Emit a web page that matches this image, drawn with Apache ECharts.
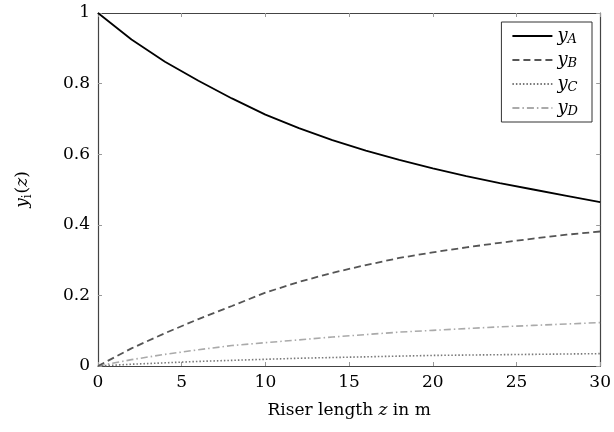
<!DOCTYPE html>
<html>
<head>
<meta charset="utf-8">
<script src="https://cdn.jsdelivr.net/npm/echarts@6/dist/echarts.min.js"></script>
<style>html,body{margin:0;padding:0;background:#fff}#c{width:614px;height:432px}</style>
</head>
<body>
<div id="c"></div>
<script>
var z  = [0, 2, 4, 6, 8, 10, 12, 14, 16, 18, 20, 22, 24, 26, 28, 30];
var yA = [1, 0.925, 0.862, 0.808, 0.758, 0.712, 0.674, 0.640, 0.610, 0.584, 0.560, 0.538, 0.518, 0.500, 0.482, 0.464];
var yB = [0, 0.050, 0.093, 0.133, 0.170, 0.208, 0.238, 0.264, 0.286, 0.306, 0.322, 0.336, 0.349, 0.361, 0.372, 0.381];
var yC = [0, 0.005, 0.009, 0.013, 0.016, 0.019, 0.022, 0.024, 0.026, 0.028, 0.030, 0.031, 0.032, 0.033, 0.034, 0.035];
var yD = [0, 0.018, 0.033, 0.046, 0.058, 0.066, 0.074, 0.082, 0.089, 0.096, 0.101, 0.106, 0.111, 0.115, 0.119, 0.123];
var seriesNames = ['A', 'B', 'C', 'D'];
var xTicks = [0, 5, 10, 15, 20, 25, 30];
var yTicks = [0, 0.2, 0.4, 0.6, 0.8, 1];

function pairs(ys){ return z.map(function(v,i){ return [v, ys[i]]; }); }
var FONT = 'DejaVu Serif';
var FS = 17;
var chart = echarts.init(document.getElementById('c'));
var tickStyle = {show:true, inside:true, length:4, lineStyle:{color:'#999', width:1}};
var axLine = {show:true, onZero:false, lineStyle:{color:'#444', width:1.2}};
var styles = [
  {color:'#000', width:1.8, type:'solid'},
  {color:'#555', width:1.8, type:[7,4]},
  {color:'#777', width:1.6, type:[1.5,2]},
  {color:'#aaa', width:1.6, type:[7,3,1.5,3]}
];
var data = [yA, yB, yC, yD];
chart.setOption({
  animation:false,
  grid:{left:98, right:12, top:13, bottom:66},
  xAxis:[{
    type:'value', min:0, max:30, interval:5,
    axisLine:axLine, axisTick:tickStyle, splitLine:{show:false},
    axisLabel:{color:'#000', fontFamily:FONT, fontSize:FS, margin:8},
    name:'{t|Riser length }{i|z}{t| in m}', nameLocation:'middle', nameGap:36,
    nameTextStyle:{rich:{t:{fontFamily:FONT, fontSize:FS, color:'#000'}, i:{fontFamily:FONT, fontStyle:'italic', fontSize:FS, color:'#000'}}}
  },{
    type:'value', min:0, max:30, interval:5, position:'top',
    axisLine:axLine, axisTick:tickStyle, axisLabel:{show:false}, splitLine:{show:false}
  }],
  yAxis:[{
    type:'value', min:0, max:1, interval:0.2,
    axisLine:axLine, axisTick:tickStyle, splitLine:{show:false},
    axisLabel:{color:'#000', fontFamily:FONT, fontSize:FS, margin:8,
      formatter:function(v){ return (Math.round(v*10)/10).toString(); }},
    name:'{i|y}{s|i}{t|(}{i|z}{t|)}', nameLocation:'middle', nameGap:64, nameRotate:90,
    nameTextStyle:{rich:{
      t:{fontFamily:FONT, fontSize:FS, color:'#000'},
      i:{fontFamily:FONT, fontStyle:'italic', fontSize:FS, color:'#000'},
      s:{fontFamily:FONT, fontSize:12, color:'#000', padding:[10,1,0,0]}}}
  },{
    type:'value', min:0, max:1, interval:0.2, position:'right',
    axisLine:axLine, axisTick:tickStyle, axisLabel:{show:false}, splitLine:{show:false}
  }],
  legend:{
    right:22, top:22, orient:'vertical', itemWidth:40, itemHeight:14, itemGap:4,
    padding:[4,14,4,10], borderColor:'#333', borderWidth:1, backgroundColor:'#fff',
    itemStyle:{opacity:0},
    formatter:function(n){ return '{i|y}{s|' + n + '}'; },
    textStyle:{rich:{
      i:{fontFamily:FONT, fontStyle:'italic', fontSize:18, color:'#000', lineHeight:20},
      s:{fontFamily:FONT, fontStyle:'italic', fontSize:13, color:'#000', lineHeight:20, padding:[7,0,0,0]}}},
    data:seriesNames
  },
  series:seriesNames.map(function(n,i){
    return {name:n, type:'line', showSymbol:false, symbol:'none', smooth:false,
      lineStyle:styles[i], itemStyle:{color:styles[i].color}, data:pairs(data[i]), z:10-i};
  })
});
</script>
</body>
</html>
